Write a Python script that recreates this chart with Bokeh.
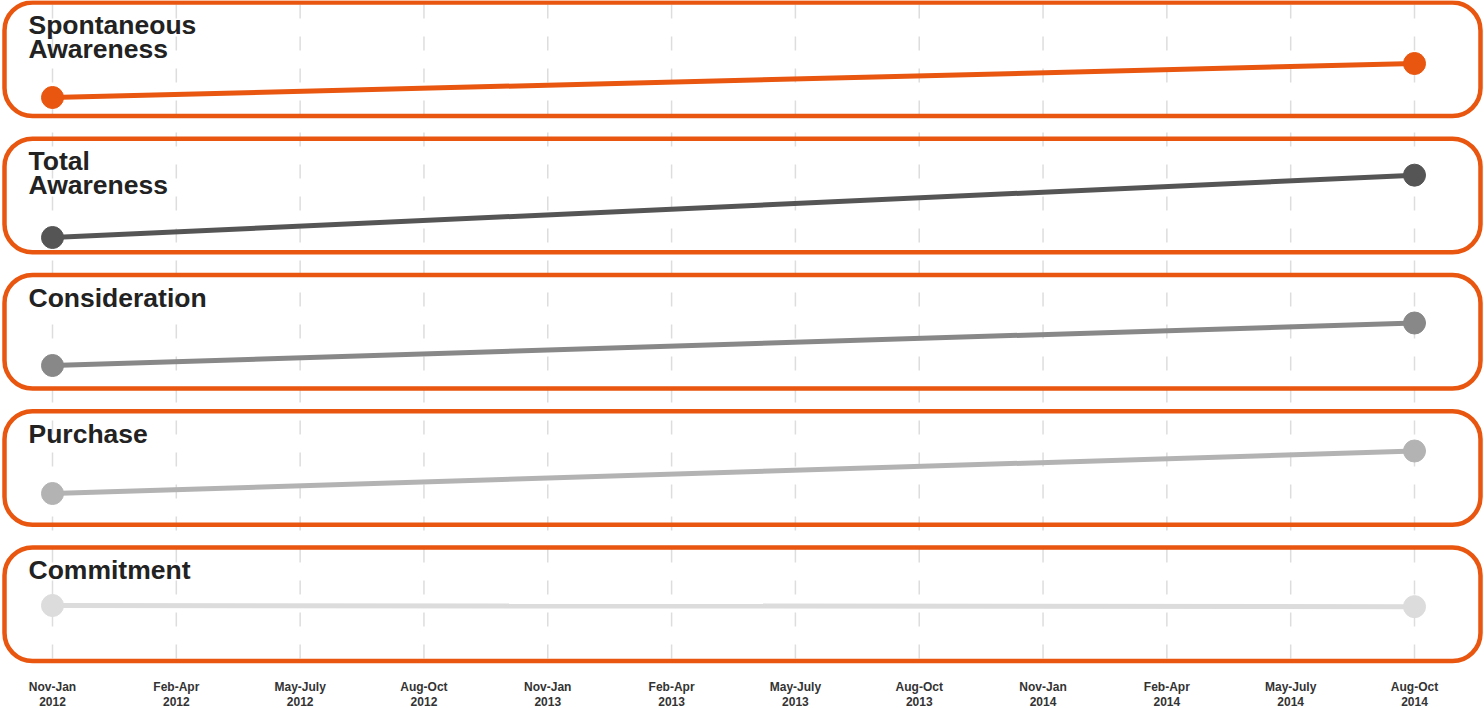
from bokeh.plotting import figure
from bokeh.models import Range1d, BoxAnnotation, ColumnDataSource
from bokeh.embed import file_html
from bokeh.resources import INLINE
from bokeh.core.properties import value

# ---- data ----
months = ["Nov-Jan", "Feb-Apr", "May-July", "Aug-Oct",
          "Nov-Jan", "Feb-Apr", "May-July", "Aug-Oct",
          "Nov-Jan", "Feb-Apr", "May-July", "Aug-Oct"]
years = ["2012", "2012", "2012", "2012",
         "2013", "2013", "2013", "2013",
         "2014", "2014", "2014", "2014"]
measured_idx = [0, 11]   # Nov-Jan 2012 and Aug-Oct 2014

titles = ["Spontaneous\nAwareness", "Total\nAwareness", "Consideration",
          "Purchase", "Commitment"]
spontaneous = [21.0, 27.0]
total = [48.0, 59.0]
consideration = [30.0, 37.5]
purchase = [12.0, 19.5]
commitment = [6.2, 6.0]
series = [spontaneous, total, consideration, purchase, commitment]
colors = ["#E8560F", "#555555", "#888888", "#b3b3b3", "#dcdcdc"]

# ---- layout (styling) ----
W, H = 1484, 708
ORANGE = "#E8560F"
K = 34.0 / 6.0                     # px per unit
anchor_px = [97, 237, 365, 493, 605]  # vertical px of the first point (from top)
panel_top = [2, 138.25, 274.5, 410.75, 547]
panel_h = 113.5

def fy(y_from_top):
    return H - y_from_top

x0_px, dx_px = 52.0, (1414.0 - 52.0) / 11.0
p = figure(width=W, height=H, output_backend="svg", toolbar_location=None,
           x_range=Range1d(0, W), y_range=Range1d(0, H),
           x_axis_location=None, y_axis_location=None, min_border=0,
           outline_line_color=None, background_fill_color="white",
           border_fill_color="white")
p.grid.visible = False
p.extra_x_ranges = {"cat": Range1d(-x0_px / dx_px, (W - x0_px) / dx_px)}
for i, vals in enumerate(series):
    end = vals[0] + anchor_px[i] / K
    p.extra_y_ranges["p%d" % i] = Range1d(end - H / K, end)

# dashed vertical gridlines
n = len(months)
idx = list(range(n))
p.segment(x0=idx, x1=idx, y0=[fy(4)] * n, y1=[fy(662)] * n,
          x_range_name="cat", line_color="#dddddd", line_width=1.5,
          line_dash="14 18")

# panel boxes
for i in range(5):
    p.add_layout(BoxAnnotation(left=4, right=1480,
                               top=fy(panel_top[i]), bottom=fy(panel_top[i] + panel_h),
                               fill_alpha=0, line_color=ORANGE, line_alpha=1.0,
                               line_width=4.5, border_radius=28))

# titles
for i, t in enumerate(titles):
    lines = t.split("\n")
    base = panel_top[i] + 22.5
    p.text(x=[28] * len(lines), y=[fy(base + 23.5 * j) for j in range(len(lines))],
           text=lines, text_font=value("Liberation Sans"), text_font_style="bold",
           text_font_size="26.5px", text_color="#222222", text_baseline="alphabetic",
           text_align="left")

# series
for i, vals in enumerate(series):
    src = ColumnDataSource(dict(x=measured_idx, y=vals))
    p.line("x", "y", source=src, x_range_name="cat", y_range_name="p%d" % i,
           line_color=colors[i], line_width=5)
    p.scatter("x", "y", source=src, x_range_name="cat", y_range_name="p%d" % i,
              size=22, fill_color=colors[i], line_color=colors[i])

# x labels
p.text(x=idx, y=[fy(686.5)] * n, text=months, x_range_name="cat",
       text_font=value("Liberation Sans"), text_font_style="bold",
       text_font_size="12px", text_color="#333333", text_align="center",
       text_baseline="alphabetic")
p.text(x=idx, y=[fy(700.5)] * n, text=years, x_range_name="cat",
       text_font=value("Liberation Sans"), text_font_style="bold",
       text_font_size="12px", text_color="#333333", text_align="center",
       text_baseline="alphabetic")

open("out.html", "w").write(file_html(p, INLINE))
